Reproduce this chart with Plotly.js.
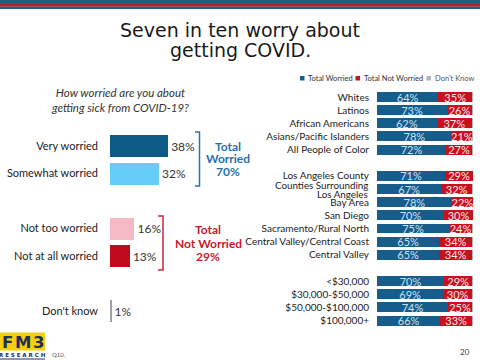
<!DOCTYPE html>
<html>
<head>
<meta charset="utf-8">
<script src="https://cdn.plot.ly/plotly-3.0.1.min.js"></script>
<style>html,body{margin:0;padding:0;background:#fff;}#chart{width:480px;height:360px;}</style>
</head>
<body>
<div id="chart"></div>
<script>
// ---- data ----
const titleLines = ['Seven in ten worry about', 'getting COVID.'];
const questionText = '<i>How worried are you about<br>getting sick from COVID-19?</i>';
const leftCategories = ['Very worried', 'Somewhat worried', 'Not too worried', 'Not at all worried', "Don't know"];
const leftValues = [38, 32, 16, 13, 1];
const totalWorriedLabel = ['Total', 'Worried', '70%'];
const totalNotWorriedLabel = ['Total', 'Not Worried', '29%'];

const groups = ['Whites', 'Latinos', 'African Americans', 'Asians/Pacific Islanders', 'All People of Color',
  'Los Angeles County', 'Counties Surrounding<br>Los Angeles', 'Bay Area', 'San Diego', 'Sacramento/Rural North',
  'Central Valley/Central Coast', 'Central Valley',
  '&lt;$30,000', '$30,000-$50,000', '$50,000-$100,000', '$100,000+'];
const totalWorried    = [64, 73, 62, 78, 72, 71, 67, 78, 70, 75, 65, 65, 70, 69, 74, 66];
const totalNotWorried = [35, 26, 37, 21, 27, 29, 32, 22, 30, 24, 34, 34, 29, 30, 25, 33];
const dontKnow        = [1, 1, 1, 1, 1, 0, 1, 0, 0, 1, 1, 1, 1, 1, 1, 1];
const seriesNames = ['Total Worried', 'Total Not Worried', "Don't Know"];

// ---- styles ----
const FONT = 'Lato, "Liberation Sans", sans-serif';
const TITLE_FONT = '"DejaVu Sans", Verdana, sans-serif';
const leftColors = ['#0d5a86', '#66cdf8', '#f5b9c5', '#c10a1e', '#a0a0a0'];
const seriesColors = ['#175d8b', '#c8101f', '#b3b3b3'];
const seriesTextColors = ['#c9e3f5', '#ffe8ea', '#ffffff'];

const W = 480, H = 360;
const px = x => x / W;
const py = y => 1 - y / H;

// category orders with spacer rows (layout only)
const leftOrder = [leftCategories[0], leftCategories[1], ' ', leftCategories[2], leftCategories[3], '  ', leftCategories[4]];
const rightOrder = groups.slice(0, 5).concat([' ']).concat(groups.slice(5, 12)).concat(['  ']).concat(groups.slice(12));
// multi-line labels are drawn as separate annotation lines for tighter spacing
const rightTickText = rightOrder.map(c => c.includes('<br>') ? '' : c);

const pct = v => v + '%';

const traces = [
  {
    type: 'bar', orientation: 'h', xaxis: 'x', yaxis: 'y',
    y: leftCategories, x: leftValues,
    text: leftValues.map(pct), textposition: 'outside', constraintext: 'none', cliponaxis: false,
    outsidetextfont: {family: FONT, size: 12, color: '#333333'},
    marker: {color: leftColors, line: {width: 0}}, width: 0.8,
    hoverinfo: 'skip', showlegend: false
  },
  {
    type: 'bar', orientation: 'h', xaxis: 'x2', yaxis: 'y2', name: seriesNames[0],
    y: groups, x: totalWorried,
    text: totalWorried.map(pct), textposition: 'inside', insidetextanchor: 'middle', constraintext: 'none',
    insidetextfont: {family: FONT, size: 11, color: seriesTextColors[0]},
    marker: {color: seriesColors[0], line: {width: 0}}, width: 0.76, hoverinfo: 'skip', showlegend: false
  },
  {
    type: 'bar', orientation: 'h', xaxis: 'x2', yaxis: 'y2', name: seriesNames[1],
    y: groups, x: totalNotWorried,
    text: totalNotWorried.map(pct), textposition: 'inside', insidetextanchor: 'middle', constraintext: 'none',
    insidetextfont: {family: FONT, size: 11, color: seriesTextColors[1]},
    marker: {color: seriesColors[1], line: {width: 0}}, width: 0.76, hoverinfo: 'skip', showlegend: false
  },
  {
    type: 'bar', orientation: 'h', xaxis: 'x2', yaxis: 'y2', name: seriesNames[2],
    y: groups, x: dontKnow, textposition: 'none',
    marker: {color: seriesColors[2], line: {width: 0}}, width: 0.76, hoverinfo: 'skip', showlegend: false
  }
];

// left panel geometry: row 0 at 146px, step 27.5px; 1% = 1.53px from x=110
const lTop = 146 - 27.5 * 0.5, lBot = 146 + 27.5 * 6.5;
// right panel geometry: row 0 at 97px, step 13.15px; 0..100 from 377 to 473
const rTop = 97 - 13.15 * 0.5, rBot = 97 + 13.15 * 17.5;

const shapes = [
  // top stripes
  {type: 'rect', xref: 'paper', yref: 'paper', x0: 0, x1: 1, y0: py(4), y1: py(0), fillcolor: '#1c5f8c', line: {width: 0}},
  {type: 'rect', xref: 'paper', yref: 'paper', x0: 0, x1: 1, y0: py(6.7), y1: py(4), fillcolor: '#b41f2f', line: {width: 0}},
  {type: 'rect', xref: 'paper', yref: 'paper', x0: 0, x1: 1, y0: py(9), y1: py(6.7), fillcolor: '#1c5f8c', line: {width: 0}},
  // blue bracket
  {type: 'path', xref: 'paper', yref: 'paper',
   path: `M ${px(195)} ${py(132)} L ${px(199.5)} ${py(132)} L ${px(199.5)} ${py(186)} L ${px(195)} ${py(186)}`,
   line: {color: '#2b74aa', width: 1.5}},
  // red bracket
  {type: 'path', xref: 'paper', yref: 'paper',
   path: `M ${px(158)} ${py(216)} L ${px(163)} ${py(216)} L ${px(163)} ${py(270)} L ${px(158)} ${py(270)}`,
   line: {color: '#c8283a', width: 1.5}},
  // legend swatches
  {type: 'rect', xref: 'paper', yref: 'paper', x0: px(300), x1: px(304.5), y0: py(80.5), y1: py(76), fillcolor: seriesColors[0], line: {width: 0}},
  {type: 'rect', xref: 'paper', yref: 'paper', x0: px(355.5), x1: px(360), y0: py(80.5), y1: py(76), fillcolor: seriesColors[1], line: {width: 0}},
  {type: 'rect', xref: 'paper', yref: 'paper', x0: px(426.5), x1: px(431), y0: py(80.5), y1: py(76), fillcolor: seriesColors[2], line: {width: 0}},
  // logo
  {type: 'rect', xref: 'paper', yref: 'paper', x0: px(0), x1: px(45), y0: py(350.5), y1: py(332.5), fillcolor: '#f4cf0a', line: {width: 0}},
  {type: 'line', xref: 'paper', yref: 'paper', x0: px(0), x1: px(45), y0: py(359), y1: py(359), line: {color: '#1d2f5a', width: 1}}
];

const ann = (text, x, y, opts) => Object.assign({
  text, xref: 'paper', yref: 'paper', x: px(x), y: py(y), showarrow: false,
  xanchor: 'center', yanchor: 'middle', font: {family: FONT, size: 11, color: '#333'}
}, opts || {});

const annotations = [
  ann(titleLines[1], 240, 50.5, {font: {family: TITLE_FONT, size: 19, color: '#1a1a1a'}}),
  ann(questionText, 120, 100, {font: {family: FONT, size: 11.5, color: '#333'}}),
  ann('<b>' + totalWorriedLabel[0] + '</b>', 228, 146, {font: {family: FONT, size: 12, color: '#1f72ad'}}),
  ann('<b>' + totalWorriedLabel[1] + '</b>', 228, 158.5, {font: {family: FONT, size: 12, color: '#1f72ad'}}),
  ann('<b>' + totalWorriedLabel[2] + '</b>', 228, 171, {font: {family: FONT, size: 12, color: '#1f72ad'}}),
  ann('<b>' + totalNotWorriedLabel[0] + '</b>', 208, 230, {font: {family: FONT, size: 12, color: '#c8192c'}}),
  ann('<b>' + totalNotWorriedLabel[1] + '</b>', 208, 243, {font: {family: FONT, size: 12, color: '#c8192c'}}),
  ann('<b>' + totalNotWorriedLabel[2] + '</b>', 208, 256, {font: {family: FONT, size: 12, color: '#c8192c'}}),
  ann(seriesNames[0], 306, 78, {xanchor: 'left', font: {family: FONT, size: 7.5, color: '#333'}}),
  ann(seriesNames[1], 361.5, 78, {xanchor: 'left', font: {family: FONT, size: 7.5, color: '#333'}}),
  ann(seriesNames[2], 432.5, 78, {xanchor: 'left', font: {family: FONT, size: 7.5, color: '#555'}}),
  ann('<b>F&#8202;M&#8202;3</b>', 22.5, 342, {font: {family: '"DejaVu Sans", sans-serif', size: 16.5, color: '#1d2f5a'}}),
  ann('<b>R E S E A R C H</b>', 22.5, 354.5, {font: {family: '"DejaVu Sans", sans-serif', size: 5.5, color: '#1d2f5a'}}),
  ann('Q10.', 50, 354, {xanchor: 'left', font: {family: FONT, size: 6, color: '#555'}}),
  ann('20', 472, 352, {xanchor: 'right', font: {family: FONT, size: 8, color: '#444'}})
];

// two-line group label, drawn line by line against its category row
groups.filter(g => g.includes('<br>')).forEach(g => {
  const lines = g.split('<br>');
  lines.forEach((line, i) => {
    annotations.push({
      text: line, xref: 'paper', yref: 'y2', x: px(369.5), y: g, yshift: 4.5 - 9.5 * i,
      xanchor: 'right', yanchor: 'middle', showarrow: false,
      font: {family: FONT, size: 9.8, color: '#222'}
    });
  });
});

const layout = {
  width: W, height: H,
  margin: {l: 0, r: 0, t: 0, b: 0},
  paper_bgcolor: '#ffffff', plot_bgcolor: 'rgba(0,0,0,0)',
  showlegend: false,
  barmode: 'stack',
  title: {
    text: titleLines[0], x: 0.5, xanchor: 'center', xref: 'paper',
    y: py(30.5), yref: 'container', yanchor: 'middle',
    font: {family: TITLE_FONT, size: 19, color: '#1a1a1a'}
  },
  xaxis: {
    domain: [px(110), px(110 + 1.53 * 50)], range: [0, 50],
    visible: false, fixedrange: true
  },
  yaxis: {
    domain: [py(lBot), py(lTop)], type: 'category', categoryarray: leftOrder, categoryorder: 'array',
    range: [6.5, -0.5], showgrid: false, zeroline: false, showline: false, ticks: '',
    ticklabelstandoff: 11, tickfont: {family: FONT, size: 11, color: '#222'}, fixedrange: true
  },
  xaxis2: {
    domain: [px(377), px(473)], range: [0, 100],
    visible: false, fixedrange: true, anchor: 'y2'
  },
  yaxis2: {
    domain: [py(rBot), py(rTop)], type: 'category', categoryarray: rightOrder, categoryorder: 'array',
    range: [17.5, -0.5], showgrid: false, zeroline: false, showline: false, ticks: '', anchor: 'x2',
    tickmode: 'array', tickvals: rightOrder, ticktext: rightTickText,
    ticklabelstandoff: 7, tickfont: {family: FONT, size: 10, color: '#222'}, fixedrange: true
  },
  shapes, annotations,
  font: {family: FONT}
};

Plotly.newPlot('chart', traces, layout, {displayModeBar: false, staticPlot: true});
</script>
</body>
</html>
